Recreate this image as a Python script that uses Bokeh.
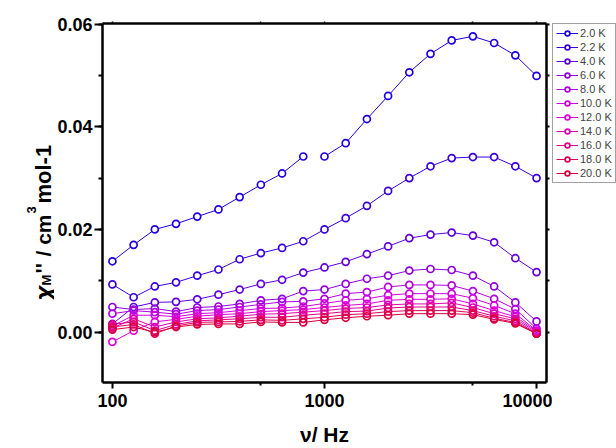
import math
from bokeh.plotting import figure
from bokeh.layouts import row
from bokeh.models import (FixedTicker, SingleIntervalTicker, LinearAxis, LogAxis,
                          PrintfTickFormatter, CustomJSTickFormatter, Legend,
                          LegendItem, Label, Range1d)
from bokeh.embed import file_html
from bokeh.resources import INLINE

# ---------------- data ----------------
freq = [100, 125.9, 158.5, 199.5, 251.2, 316.2, 398.1, 501.2, 631.0, 794.3,
        1000, 1259, 1585, 1995, 2512, 3162, 3981, 5012, 6310, 7943, 10000]

temps = ["2.0 K", "2.2 K", "4.0 K", "6.0 K", "8.0 K", "10.0 K",
         "12.0 K", "14.0 K", "16.0 K", "18.0 K", "20.0 K"]

chi_2_0K = [0.0138, 0.0170, 0.0200, 0.0211, 0.0225, 0.0239, 0.0263, 0.0287, 0.0309, 0.0342,
            0.0342, 0.0368, 0.0415, 0.0460, 0.0506, 0.0542, 0.0568, 0.0576, 0.0563, 0.0539, 0.0499]
chi_2_2K = [0.0093, 0.0068, 0.0089, 0.0097, 0.0110, 0.0122, 0.0142, 0.0154, 0.0164, 0.0177,
            0.0200, 0.0222, 0.0246, 0.0275, 0.0300, 0.0323, 0.0339, 0.0341, 0.0341, 0.0323, 0.0300]
chi_4_0K = [0.0016, 0.0049, 0.0058, 0.0059, 0.0064, 0.0073, 0.0083, 0.0094, 0.0102, 0.0116,
            0.0126, 0.0137, 0.0152, 0.0167, 0.0183, 0.0190, 0.0194, 0.0188, 0.0175, 0.0144, 0.0117]
chi_6_0K = [0.0049, 0.0044, 0.0046, 0.0040, 0.0048, 0.0050, 0.0055, 0.0062, 0.0065, 0.0080,
            0.0083, 0.0094, 0.0104, 0.0110, 0.0120, 0.0123, 0.0121, 0.0110, 0.0089, 0.0058, 0.0021]
chi_8_0K = [0.0036, 0.0042, 0.0039, 0.0035, 0.0042, 0.0044, 0.0049, 0.0054, 0.0059, 0.0060,
            0.0065, 0.0075, 0.0078, 0.0088, 0.0092, 0.0092, 0.0091, 0.0080, 0.0065, 0.0045, 0.0007]
chi_10_0K = [0.0012, 0.0033, 0.0033, 0.0030, 0.0036, 0.0038, 0.0042, 0.0046, 0.0047, 0.0050,
             0.0056, 0.0062, 0.0065, 0.0072, 0.0075, 0.0075, 0.0075, 0.0066, 0.0052, 0.0036, 0.0003]
chi_12_0K = [-0.0019, 0.0003, 0.0020, 0.0025, 0.0031, 0.0034, 0.0036, 0.0040, 0.0042, 0.0044,
             0.0048, 0.0052, 0.0055, 0.0062, 0.0064, 0.0064, 0.0065, 0.0055, 0.0042, 0.0030, 0.0002]
chi_14_0K = [0.0008, 0.0026, 0.0010, 0.0020, 0.0026, 0.0028, 0.0031, 0.0035, 0.0036, 0.0039,
             0.0042, 0.0046, 0.0048, 0.0053, 0.0055, 0.0055, 0.0057, 0.0048, 0.0036, 0.0026, 0.0000]
chi_16_0K = [0.0015, 0.0020, 0.0003, 0.0015, 0.0022, 0.0024, 0.0026, 0.0029, 0.0029, 0.0033,
             0.0036, 0.0040, 0.0041, 0.0047, 0.0049, 0.0049, 0.0049, 0.0042, 0.0031, 0.0022, -0.0002]
chi_18_0K = [0.0010, 0.0015, -0.0003, 0.0012, 0.0019, 0.0020, 0.0021, 0.0024, 0.0023, 0.0026,
             0.0029, 0.0034, 0.0036, 0.0040, 0.0042, 0.0042, 0.0042, 0.0038, 0.0027, 0.0019, -0.0003]
chi_20_0K = [0.0005, 0.0010, 0.0000, 0.0010, 0.0015, 0.0016, 0.0016, 0.0020, 0.0019, 0.0019,
             0.0024, 0.0028, 0.0031, 0.0033, 0.0036, 0.0036, 0.0036, 0.0034, 0.0025, 0.0017, -0.0003]

series = [chi_2_0K, chi_2_2K, chi_4_0K, chi_6_0K, chi_8_0K, chi_10_0K,
          chi_12_0K, chi_14_0K, chi_16_0K, chi_18_0K, chi_20_0K]

colors = ["#1e00e6", "#3a00e0", "#6000e0", "#9000e0", "#b400e0", "#d000e0",
          "#e000d8", "#e000b0", "#e00088", "#e00058", "#d8003a"]

x_ticks = [100, 1000, 10000]
x_minor = [500, 5000]

FONT = "Liberation Sans"

# ---------------- main plot ----------------
p = figure(width=498, height=448, x_axis_type="log",
           x_range=Range1d(89.8, 11140), y_range=Range1d(-0.0098, 0.0601),
           output_backend="svg", toolbar_location=None,
           min_border_left=45, min_border_right=6, min_border_top=23, min_border_bottom=66)
p.outline_line_color = None
p.grid.visible = False
p.background_fill_color = "white"

xa = p.xaxis[0]
xa.ticker = FixedTicker(ticks=x_ticks, minor_ticks=x_minor)
xa.formatter = PrintfTickFormatter(format="%d")
ya = p.yaxis[0]
ya.ticker = SingleIntervalTicker(interval=0.02, num_minor_ticks=2)
ya.formatter = PrintfTickFormatter(format="%.2f")

for ax in (xa, ya):
    ax.axis_line_width = 2.5
    ax.major_tick_line_width = 2
    ax.minor_tick_line_width = 2
    ax.major_tick_in = 0
    ax.minor_tick_in = 0
    ax.major_label_text_font = FONT
    ax.major_label_text_font_style = "bold"
    ax.major_label_text_font_size = "18px"
    ax.major_label_text_color = "black"
xa.major_tick_out = 6
xa.minor_tick_out = 3
xa.major_label_standoff = 5
ya.major_tick_out = 8
ya.minor_tick_out = 4
ya.major_label_standoff = 2

xa.axis_label = "ν/ Hz"
xa.axis_label_text_font = FONT
xa.axis_label_text_font_style = "bold"
xa.axis_label_text_font_size = "21px"
xa.axis_label_text_color = "black"
xa.axis_label_standoff = 13

blank = CustomJSTickFormatter(code="return ''")
right = LinearAxis(ticker=SingleIntervalTicker(interval=0.01, num_minor_ticks=0),
                   formatter=blank, axis_line_width=2.5, major_tick_line_width=2,
                   major_tick_in=0, major_tick_out=3, minor_tick_out=0, minor_tick_in=0,
                   major_label_standoff=0)
p.add_layout(right, "right")
top = LogAxis(ticker=FixedTicker(ticks=x_ticks + x_minor, minor_ticks=[]),
              formatter=blank, axis_line_width=2.5, major_tick_line_width=1.5,
              major_tick_in=0, major_tick_out=2, minor_tick_out=0, minor_tick_in=0,
              major_label_standoff=0)
p.add_layout(top, "above")

for i, (vals, col) in enumerate(zip(series, colors)):
    if i == 0:
        p.line(freq[:10], vals[:10], line_color=col, line_width=1)
        p.line(freq[10:], vals[10:], line_color=col, line_width=1)
    else:
        p.line(freq, vals, line_color=col, line_width=1)
for vals in series:
    p.scatter(freq, vals, marker="circle", size=7, line_color=None, fill_color="white")
for vals, col in zip(series, colors):
    p.scatter(freq, vals, marker="circle", size=7, line_color=col,
              line_width=1.7, fill_color=None)

# ---------------- helper panels ----------------
def blank_fig(w, h):
    f = figure(width=w, height=h, x_range=Range1d(0, 1), y_range=Range1d(0, 1),
               output_backend="svg", toolbar_location=None, min_border=0,
               x_axis_location=None, y_axis_location=None)
    f.outline_line_color = None
    f.grid.visible = False
    return f

# legend panel: the same series drawn (outside its view) so the legend gets styled swatches
lg = blank_fig(64, 448)
items = []
for t, vals, col in zip(temps, series, colors):
    lr = lg.line(freq, vals, line_color=col, line_width=1)
    rr = lg.scatter(freq, vals, marker="circle", size=7, line_color=col,
                    line_width=1.7, fill_color="white")
    items.append(LegendItem(label=t, renderers=[lr, rr]))
legend = Legend(items=items, location="top_left", label_text_font=FONT,
                label_text_font_size="11px", glyph_width=22, glyph_height=12,
                label_height=12, label_standoff=2, spacing=2, padding=3, margin=0,
                border_line_color="#444444", border_line_width=1,
                background_fill_color="white", background_fill_alpha=1)
lg.add_layout(legend, "center")

# y-axis title panel (sub/superscripts as separate text pieces)
yl = blank_fig(54, 448)

def lab(f, text, x, y, size, italic=False, angle=0.0):
    f.add_layout(Label(x=x, y=y, x_units="screen", y_units="screen", text=text,
                       text_font=FONT, text_font_size=f"{size}px",
                       text_font_style="bold italic" if italic else "bold",
                       text_color="black", angle=angle, angle_units="rad",
                       text_align="left", text_baseline="alphabetic"))

R = math.pi / 2
lab(yl, "χ", 43, 82, 26, italic=True, angle=R)
lab(yl, "M", 46, 97, 13, angle=R)
lab(yl, "''", 43, 109, 22, angle=R)
lab(yl, "/ cm", 43, 126, 21, angle=R)
lab(yl, "3", 31, 169, 13, angle=R)
lab(yl, "mol-1", 43, 179, 22, angle=R)

root = row(yl, p, lg, spacing=0)
open("out.html", "w").write(file_html(root, INLINE))
